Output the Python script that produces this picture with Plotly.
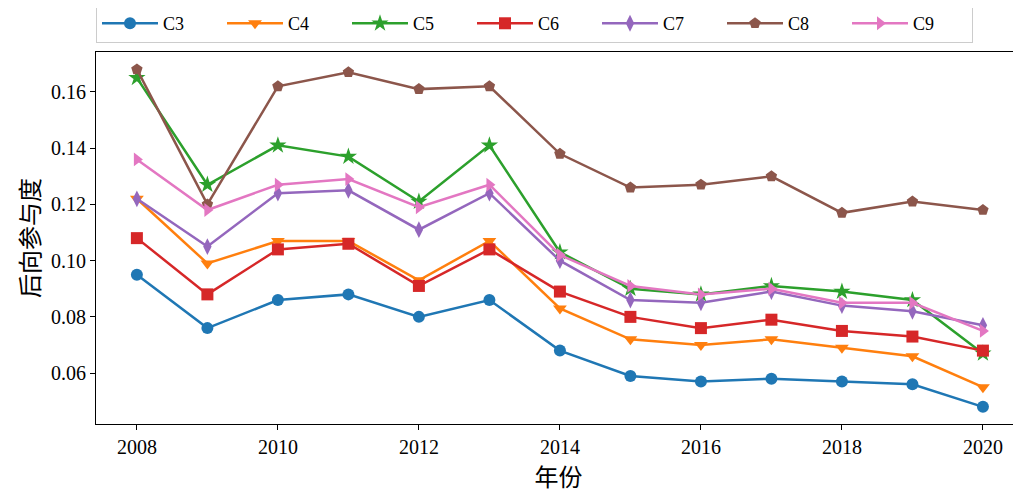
import plotly.graph_objects as go

years = list(range(2008, 2021))
series_names = ["C3", "C4", "C5", "C6", "C7", "C8", "C9"]
c3 = [0.095, 0.076, 0.086, 0.088, 0.080, 0.086, 0.068, 0.059, 0.057, 0.058, 0.057, 0.056, 0.048]
c4 = [0.122, 0.099, 0.107, 0.107, 0.093, 0.107, 0.083, 0.072, 0.070, 0.072, 0.069, 0.066, 0.055]
c5 = [0.165, 0.127, 0.141, 0.137, 0.121, 0.141, 0.103, 0.090, 0.088, 0.091, 0.089, 0.086, 0.067]
c6 = [0.108, 0.088, 0.104, 0.106, 0.091, 0.104, 0.089, 0.080, 0.076, 0.079, 0.075, 0.073, 0.068]
c7 = [0.122, 0.105, 0.124, 0.125, 0.111, 0.124, 0.100, 0.086, 0.085, 0.089, 0.084, 0.082, 0.077]
c8 = [0.168, 0.120, 0.162, 0.167, 0.161, 0.162, 0.138, 0.126, 0.127, 0.130, 0.117, 0.121, 0.118]
c9 = [0.136, 0.118, 0.127, 0.129, 0.119, 0.127, 0.102, 0.091, 0.088, 0.090, 0.085, 0.085, 0.075]
values = [c3, c4, c5, c6, c7, c8, c9]
colors = ["#1f77b4", "#ff7f0e", "#2ca02c", "#d62728", "#9467bd", "#8c564b", "#e377c2"]
symbols = ["circle", "triangle-down", "star", "square", "diamond-tall", "pentagon", "triangle-right"]
x_ticks = [2008, 2010, 2012, 2014, 2016, 2018, 2020]
y_ticks = [0.06, 0.08, 0.10, 0.12, 0.14, 0.16]

serif = "Liberation Serif"
cjk = "Noto Sans CJK SC"

fig = go.Figure()
for name, vals, col, sym in zip(series_names, values, colors, symbols):
    fig.add_trace(go.Scatter(
        x=years, y=vals, name=name, mode="lines+markers",
        line=dict(color=col, width=2.5),
        marker=dict(symbol=sym, size=12 if sym != "star" else 13, color=col, line=dict(width=0)),
    ))

fig.update_layout(
    width=1013, height=489,
    margin=dict(l=88, r=0, t=44, b=73, autoexpand=False),
    paper_bgcolor="white", plot_bgcolor="white",
    font=dict(family=serif, size=20, color="black"),
    showlegend=True,
    legend=dict(
        orientation="h", x=0.0, y=1.024, xanchor="left", yanchor="bottom",
        bordercolor="#cccccc", borderwidth=1, bgcolor="white",
        itemwidth=56,
        entrywidth=54, entrywidthmode="pixels",
        font=dict(family=serif, size=18),
        tracegroupgap=0,
    ),
    xaxis=dict(
        range=[2007.42, 2020.54],
        tickmode="array", tickvals=x_ticks, ticktext=[str(t) for t in x_ticks],
        ticks="outside", ticklen=5, tickwidth=1, tickcolor="black",
        tickfont=dict(family=serif, size=20),
        showline=True, linecolor="black", linewidth=1.2, mirror=True,
        showgrid=False, zeroline=False, automargin=False,
        title=dict(text="年份", font=dict(family=cjk, size=24), standoff=8),
    ),
    yaxis=dict(
        range=[0.0419, 0.1742],
        tickmode="array", tickvals=y_ticks, ticktext=[f"{v:.2f}" for v in y_ticks],
        ticks="outside", ticklen=5, tickwidth=1, tickcolor="black",
        tickfont=dict(family=serif, size=20),
        showline=True, linecolor="black", linewidth=1.2,
        showgrid=False, zeroline=False, automargin=False,
        title=dict(text="后向参与度", font=dict(family=cjk, size=24), standoff=4),
    ),
)

fig.write_html("out.html")
